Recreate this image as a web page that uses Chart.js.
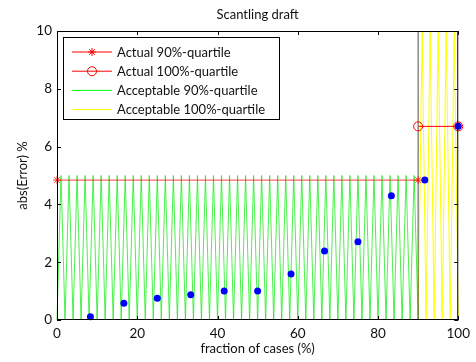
<!DOCTYPE html>
<html>
<head>
<meta charset="utf-8">
<script src="https://cdn.jsdelivr.net/npm/chart.js@4/dist/chart.umd.min.js"></script>
<style>
  html, body { margin: 0; padding: 0; background: #fff; }
</style>
</head>
<body>
<canvas id="c" width="476" height="362"></canvas>
<script>
// blue dots: fraction of cases vs abs(Error)
const cases = [8.33, 16.67, 25, 33.33, 41.67, 50, 58.33, 66.67, 75, 83.33, 91.67, 100];
const absError = [0.11, 0.58, 0.75, 0.87, 1.0, 1.0, 1.59, 2.39, 2.71, 4.3, 4.84, 6.7];

// actual quartiles
const q90X = [0, 90];
const q90Y = [4.84, 4.84];
const q100X = [90, 100];
const q100Y = [6.7, 6.7];

// acceptable zones (zigzag fill as drawn in the figure)
const greenX = [0, 1, 2, 3, 4, 5, 6, 7, 8, 9, 10, 11, 12, 13, 14, 15, 16, 17, 18, 19, 20,
  21, 22, 23, 24, 25, 26, 27, 28, 29, 30, 31, 32, 33, 34, 35, 36, 37, 38, 39, 40,
  41, 42, 43, 44, 45, 46, 47, 48, 49, 50, 51, 52, 53, 54, 55, 56, 57, 58, 59, 60,
  61, 62, 63, 64, 65, 66, 67, 68, 69, 70, 71, 72, 73, 74, 75, 76, 77, 78, 79, 80,
  81, 82, 83, 84, 85, 86, 87, 88, 89, 90];
const greenY = [0, 5, 0, 5, 0, 5, 0, 5, 0, 5, 0, 5, 0, 5, 0, 5, 0, 5, 0, 5, 0,
  5, 0, 5, 0, 5, 0, 5, 0, 5, 0, 5, 0, 5, 0, 5, 0, 5, 0, 5, 0,
  5, 0, 5, 0, 5, 0, 5, 0, 5, 0, 5, 0, 5, 0, 5, 0, 5, 0, 5, 0,
  5, 0, 5, 0, 5, 0, 5, 0, 5, 0, 5, 0, 5, 0, 5, 0, 5, 0, 5, 0,
  5, 0, 5, 0, 5, 0, 5, 0, 5, 0];
const yellowX = [90, 91, 92, 93, 94, 95, 96, 97, 98, 99, 100];
const yellowY = [0, 10, 0, 10, 0, 10, 0, 10, 0, 10, 0];
const splitX = [90, 90];
const splitY = [0, 10];

const xTicks = [0, 20, 40, 60, 80, 100];
const yTicks = [0, 2, 4, 6, 8, 10];

const FONT = "Lato";
const pts = (xs, ys) => xs.map((x, i) => ({ x: x, y: ys[i] }));

const legendItems = [
  { text: "Actual 90%-quartile", color: "#ff0000", marker: "star" },
  { text: "Actual 100%-quartile", color: "#ff0000", marker: "circle" },
  { text: "Acceptable 90%-quartile", color: "#00ff00", marker: null },
  { text: "Acceptable 100%-quartile", color: "#ffff00", marker: null }
];

function drawStar(ctx, x, y, r) {
  ctx.beginPath();
  ctx.moveTo(x - r, y); ctx.lineTo(x + r, y);
  ctx.moveTo(x, y - r); ctx.lineTo(x, y + r);
  const d = r * 0.7071;
  ctx.moveTo(x - d, y - d); ctx.lineTo(x + d, y + d);
  ctx.moveTo(x - d, y + d); ctx.lineTo(x + d, y - d);
  ctx.stroke();
}

const framePlugin = {
  id: "frame",
  afterDraw(chart) {
    const { ctx, chartArea: a, scales } = chart;
    ctx.save();
    // box
    ctx.strokeStyle = "#000";
    ctx.lineWidth = 1;
    ctx.strokeRect(a.left + 0.5, a.top + 0.5, a.right - a.left - 1, a.bottom - a.top - 1);
    // inward ticks
    ctx.beginPath();
    scales.x.ticks.forEach(t => {
      const px = Math.round(scales.x.getPixelForValue(t.value)) + 0.5;
      ctx.moveTo(px, a.bottom); ctx.lineTo(px, a.bottom - 4);
      ctx.moveTo(px, a.top); ctx.lineTo(px, a.top + 4);
    });
    scales.y.ticks.forEach(t => {
      const py = Math.round(scales.y.getPixelForValue(t.value)) + 0.5;
      ctx.moveTo(a.left, py); ctx.lineTo(a.left + 4, py);
      ctx.moveTo(a.right, py); ctx.lineTo(a.right - 4, py);
    });
    ctx.stroke();

    // title
    ctx.fillStyle = "#111";
    ctx.font = "13px " + FONT;
    ctx.textAlign = "center";
    ctx.textBaseline = "middle";
    ctx.fillText("Scantling draft", (a.left + a.right) / 2, 15);

    // legend
    const bx = 63.5, by = 37.5, bw = 216, bh = 82;
    ctx.fillStyle = "#fff";
    ctx.fillRect(bx, by, bw, bh);
    ctx.strokeStyle = "#000";
    ctx.strokeRect(bx, by, bw, bh);
    ctx.textAlign = "left";
    legendItems.forEach((it, i) => {
      const y = 52 + i * 19.2;
      ctx.strokeStyle = it.color;
      ctx.lineWidth = 1;
      ctx.beginPath();
      ctx.moveTo(72, y); ctx.lineTo(112, y);
      ctx.stroke();
      if (it.marker === "star") drawStar(ctx, 92, y, 4);
      if (it.marker === "circle") {
        ctx.beginPath();
        ctx.arc(92, y, 4.5, 0, Math.PI * 2);
        ctx.stroke();
      }
      ctx.fillStyle = "#111";
      ctx.fillText(it.text, 117, y + 0.5);
    });
    ctx.restore();
  }
};

new Chart(document.getElementById("c").getContext("2d"), {
  type: "scatter",
  data: {
    datasets: [
      {
        label: "cases",
        data: pts(cases, absError),
        backgroundColor: "#0000ff",
        borderColor: "#0000ff",
        pointRadius: 3.5,
        pointBorderWidth: 0,
        showLine: false,
        clip: false,
        order: 0
      },
      {
        label: "Actual 90%-quartile",
        data: pts(q90X, q90Y),
        borderColor: "rgba(255,0,0,0.75)",
        backgroundColor: "#ff0000",
        borderWidth: 1,
        showLine: true,
        pointStyle: "star",
        pointRadius: 4,
        pointBorderWidth: 1,
        clip: false,
        order: 1
      },
      {
        label: "Actual 100%-quartile",
        data: pts(q100X, q100Y),
        borderColor: "#ff0000",
        backgroundColor: "rgba(0,0,0,0)",
        borderWidth: 1,
        showLine: true,
        pointStyle: "circle",
        pointRadius: 4.5,
        pointBorderWidth: 1,
        clip: false,
        order: 1
      },
      {
        label: "split",
        data: pts(splitX, splitY),
        borderColor: "#505040",
        borderWidth: 1,
        showLine: true,
        pointRadius: 0,
        clip: false,
        order: 2
      },
      {
        label: "Acceptable 90%-quartile",
        data: pts(greenX, greenY),
        borderColor: "rgba(0,235,0,0.7)",
        borderWidth: 1,
        showLine: true,
        pointRadius: 0,
        clip: false,
        order: 3
      },
      {
        label: "Acceptable 100%-quartile",
        data: pts(yellowX, yellowY),
        borderColor: "#ffff00",
        borderWidth: 1,
        showLine: true,
        pointRadius: 0,
        clip: false,
        order: 3
      }
    ]
  },
  options: {
    responsive: false,
    devicePixelRatio: 1,
    animation: false,
    events: [],
    layout: { padding: { top: 31, right: 15, left: 0, bottom: 0 } },
    plugins: {
      legend: { display: false },
      tooltip: { enabled: false },
      title: { display: false }
    },
    scales: {
      x: {
        type: "linear",
        min: 0,
        max: 100,
        afterFit: s => { s.height = 42; },
        afterBuildTicks: s => { s.ticks = xTicks.map(v => ({ value: v })); },
        grid: { display: false, drawTicks: false },
        border: { display: false },
        ticks: { padding: 6, color: "#111", font: { family: FONT, size: 13.5 } },
        title: {
          display: true,
          text: "fraction of cases (%)",
          color: "#111",
          font: { family: FONT, size: 13 },
          padding: { top: 0, bottom: 5 }
        }
      },
      y: {
        type: "linear",
        min: 0,
        max: 10,
        afterFit: s => { s.width = 57; },
        afterBuildTicks: s => { s.ticks = yTicks.map(v => ({ value: v })); },
        grid: { display: false, drawTicks: false },
        border: { display: false },
        ticks: { padding: 5, color: "#111", font: { family: FONT, size: 13.5 } },
        title: {
          display: true,
          text: "abs(Error) %",
          color: "#111",
          font: { family: FONT, size: 13 },
          padding: { top: 15, bottom: 0 }
        }
      }
    }
  },
  plugins: [framePlugin]
});
</script>
</body>
</html>
